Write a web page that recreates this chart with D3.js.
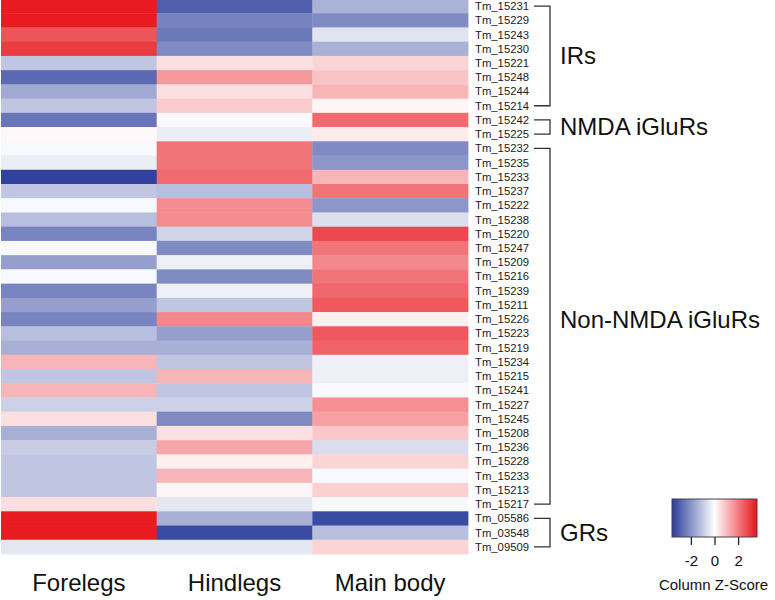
<!DOCTYPE html>
<html>
<head>
<meta charset="utf-8">
<script src="https://cdn.jsdelivr.net/npm/d3@7"></script>
<style>
  html, body { margin: 0; padding: 0; background: #ffffff; }
  svg { display: block; font-family: "Liberation Sans", Arial, Helvetica, sans-serif; }
</style>
</head>
<body>
<svg id="chart" width="775" height="600"></svg>
<script>
// ---------- data ----------
const genes = [
  "Tm_15231","Tm_15229","Tm_15243","Tm_15230","Tm_15221","Tm_15248","Tm_15244","Tm_15214",
  "Tm_15242","Tm_15225",
  "Tm_15232","Tm_15235","Tm_15233","Tm_15237","Tm_15222","Tm_15238","Tm_15220","Tm_15247",
  "Tm_15209","Tm_15216","Tm_15239","Tm_15211","Tm_15226","Tm_15223","Tm_15219","Tm_15234",
  "Tm_15215","Tm_15241","Tm_15227","Tm_15245","Tm_15208","Tm_15236","Tm_15228","Tm_15233",
  "Tm_15213","Tm_15217",
  "Tm_05586","Tm_03548","Tm_09509"
];
const tissues = ["Forelegs", "Hindlegs", "Main body"];

const forelegs = [
  3.5, 3.5, 2.6, 3.0, -1.06, -2.79, -1.6, -1.06,
  -2.55, 0.1,
  -0.12, -0.32, -3.5, -1.06, -0.12, -1.2, -2.28, -0.12,
  -1.8, -0.12, -2.28, -1.8, -2.28, -1.2, -1.47, 1.13,
  -1.06, 1.13, -0.85, 0.47, -1.47, -0.93, -1.06, -1.06,
  -1.06, 0.47,
  3.5, 3.5, -0.46
];
const hindlegs = [
  -2.96, -2.3, -2.48, -2.15, 0.47, 1.58, 0.47, 0.78,
  -0.12, -0.32,
  2.13, 2.13, 2.28, -1.2, 1.76, 1.76, -0.8, -2.15,
  -0.29, -2.15, -0.29, -1.06, 1.82, -1.8, -1.47, -1.06,
  1.13, -1.06, -0.85, -2.15, 0.47, 1.38, 0.23, 1.13,
  0.15, -0.46,
  -1.47, -3.33, -0.46
];
const mainBody = [
  -1.42, -2.15, -0.52, -1.44, 0.66, 0.9, 1.13, 0.15,
  2.28, 0.32,
  -2.15, -1.94, 1.13, 2.13, -1.94, -0.59, 2.8, 2.13,
  1.82, 2.13, 2.31, 2.56, 0.26, 2.56, 2.4, -0.29,
  -0.29, -0.12, 1.7, 1.46, 0.84, -0.63, 0.66, -0.12,
  0.72, -0.12,
  -3.33, -1.2, 0.66
];
const seriesValues = [forelegs, hindlegs, mainBody];

const groupNames = ["IRs", "NMDA iGluRs", "Non-NMDA iGluRs", "GRs"];
const groupFirst = [0, 8, 10, 36];
const groupLast  = [7, 9, 35, 38];

const keyTicks = [-2, 0, 2];
const keyTitle = "Column Z-Score";
const zMin = -3.6, zMax = 3.6;

// ---------- drawing ----------
const svg = d3.select("#chart");

const x = d3.scaleBand().domain(tissues).range([1, 468]).padding(0);
const y = d3.scaleBand().domain(d3.range(genes.length)).range([-1, 554]).padding(0);

const color = d3.scaleLinear()
  .domain([zMin, 0, zMax])
  .range(["#2a3d9a", "#ffffff", "#e8141b"])
  .interpolate(d3.interpolateRgb)
  .clamp(true);

const cells = [];
tissues.forEach((t, ci) => {
  seriesValues[ci].forEach((v, ri) => cells.push({ t, ri, v }));
});

svg.append("g").selectAll("rect")
  .data(cells)
  .join("rect")
  .attr("x", d => x(d.t))
  .attr("y", d => y(d.ri))
  .attr("width", x.bandwidth() + 0.4)
  .attr("height", y.bandwidth() + 0.4)
  .attr("fill", d => color(d.v));

// gene labels
svg.append("g").selectAll("text")
  .data(genes)
  .join("text")
  .attr("x", 475)
  .attr("y", (d, i) => y(i) + y.bandwidth() / 2)
  .attr("dy", "0.35em")
  .attr("font-size", 11.3)
  .attr("fill", "#1a1a1a")
  .text(d => d);

// brackets
const bx0 = 534, bx1 = 550;
const br = svg.append("g")
  .attr("fill", "none")
  .attr("stroke", "#333")
  .attr("stroke-width", 1.3);
groupNames.forEach((g, i) => {
  const ya = y(groupFirst[i]) + y.bandwidth() / 2;
  const yb = y(groupLast[i]) + y.bandwidth() / 2;
  br.append("path")
    .attr("d", `M${bx0},${ya}H${bx1}V${yb}H${bx0}`);
});

// group labels (long groups are labelled slightly above their midpoint, as in the original)
svg.append("g").selectAll("text")
  .data(groupNames)
  .join("text")
  .attr("x", 560)
  .attr("y", (d, i) => {
    const mid = (y(groupFirst[i]) + y(groupLast[i]) + y.bandwidth()) / 2;
    return (groupLast[i] - groupFirst[i] > 10) ? mid - 7 : mid;
  })
  .attr("dy", "0.35em")
  .attr("font-size", 24)
  .attr("fill", "#111")
  .text(d => d);

// column labels
svg.append("g").selectAll("text")
  .data(tissues)
  .join("text")
  .attr("x", d => x(d) + x.bandwidth() / 2)
  .attr("y", 583)
  .attr("dy", "0.35em")
  .attr("text-anchor", "middle")
  .attr("font-size", 24)
  .attr("fill", "#111")
  .text(d => d);

// colour key
const kx = d3.scaleLinear().domain([zMin, zMax]).range([672, 757]);
const defs = svg.append("defs");
const grad = defs.append("linearGradient").attr("id", "kgrad")
  .attr("x1", "0%").attr("x2", "100%").attr("y1", "0%").attr("y2", "0%");
d3.range(0, 1.0001, 0.05).forEach(f => {
  grad.append("stop")
    .attr("offset", (f * 100) + "%")
    .attr("stop-color", color(zMin + f * (zMax - zMin)));
});
svg.append("rect")
  .attr("x", kx(zMin)).attr("y", 499)
  .attr("width", kx(zMax) - kx(zMin)).attr("height", 38)
  .attr("fill", "url(#kgrad)")
  .attr("stroke", "#444").attr("stroke-width", 1);

const keyAxis = d3.axisBottom(kx).tickValues(keyTicks).tickSize(8).tickPadding(10)
  .tickFormat(d3.format("d"));
const ka = svg.append("g").attr("transform", "translate(0,537)").call(keyAxis);
ka.select(".domain").remove();
ka.selectAll("line").attr("stroke", "#222").attr("stroke-width", 1.3);
ka.selectAll("text").attr("font-size", 15).attr("fill", "#111")
  .attr("font-family", "'Liberation Sans', Arial, sans-serif")
  .text(d => d < 0 ? "-" + Math.abs(d) : d);

svg.append("text")
  .attr("x", (kx(zMin) + kx(zMax)) / 2 - 1)
  .attr("y", 585)
  .attr("dy", "0.35em")
  .attr("text-anchor", "middle")
  .attr("font-size", 15)
  .attr("fill", "#111")
  .text(keyTitle);
</script>
</body>
</html>
